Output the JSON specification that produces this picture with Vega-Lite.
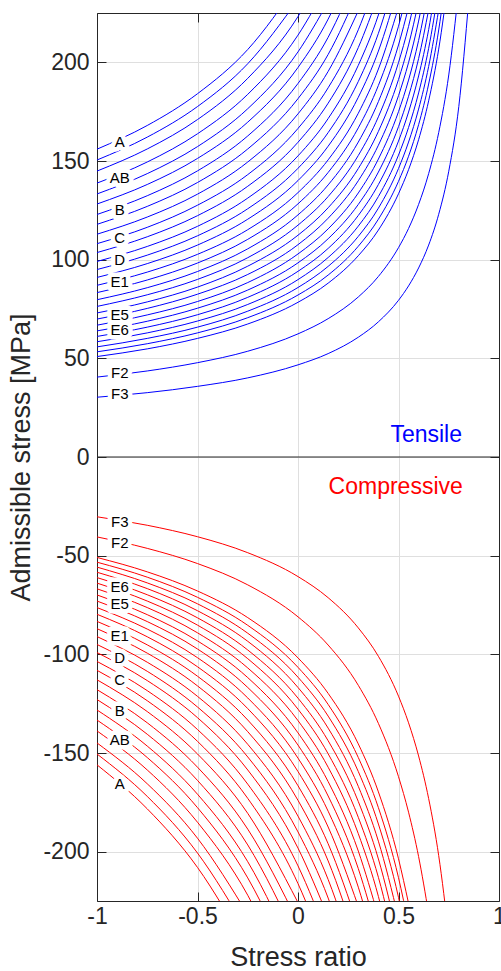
{
  "$schema": "https://vega.github.io/schema/vega-lite/v6.json",
  "width": 402,
  "height": 888,
  "autosize": "none",
  "padding": {"left": 97, "top": 13, "right": 2, "bottom": 70},
  "config": {"view": {"stroke": null}, "font": "Liberation Sans"},
  "datasets": {
    "curves": [
      {"i":"T1","f":"T","R":-1,"s":156},{"i":"T1","f":"T","R":-0.75,"s":168.0},{"i":"T1","f":"T","R":-0.5,"s":184.1},{"i":"T1","f":"T","R":-0.25,"s":206.5},{"i":"T1","f":"T","R":0,"s":240.2},
      {"i":"T2","f":"T","R":-1,"s":150.5},{"i":"T2","f":"T","R":-0.75,"s":162.1},{"i":"T2","f":"T","R":-0.5,"s":177.6},{"i":"T2","f":"T","R":-0.25,"s":199.3},{"i":"T2","f":"T","R":0,"s":231.8},
      {"i":"T3","f":"T","R":-1,"s":144.9},{"i":"T3","f":"T","R":-0.75,"s":156.1},{"i":"T3","f":"T","R":-0.5,"s":171.0},{"i":"T3","f":"T","R":-0.25,"s":191.9},{"i":"T3","f":"T","R":0,"s":223.2},{"i":"T3","f":"T","R":0.15,"s":250.8},
      {"i":"T4","f":"T","R":-1,"s":138.8},{"i":"T4","f":"T","R":-0.75,"s":149.5},{"i":"T4","f":"T","R":-0.5,"s":163.8},{"i":"T4","f":"T","R":-0.25,"s":183.8},{"i":"T4","f":"T","R":0,"s":213.8},{"i":"T4","f":"T","R":0.15,"s":240.2},
      {"i":"T5","f":"T","R":-1,"s":133.3},{"i":"T5","f":"T","R":-0.75,"s":143.6},{"i":"T5","f":"T","R":-0.5,"s":157.3},{"i":"T5","f":"T","R":-0.25,"s":176.5},{"i":"T5","f":"T","R":0,"s":205.3},{"i":"T5","f":"T","R":0.15,"s":230.7},
      {"i":"T6","f":"T","R":-1,"s":128.2},{"i":"T6","f":"T","R":-0.75,"s":138.1},{"i":"T6","f":"T","R":-0.5,"s":151.3},{"i":"T6","f":"T","R":-0.25,"s":169.7},{"i":"T6","f":"T","R":0,"s":197.4},{"i":"T6","f":"T","R":0.15,"s":221.9},{"i":"T6","f":"T","R":0.3,"s":256.8},
      {"i":"T7","f":"T","R":-1,"s":122.9},{"i":"T7","f":"T","R":-0.75,"s":132.4},{"i":"T7","f":"T","R":-0.5,"s":145.0},{"i":"T7","f":"T","R":-0.25,"s":162.7},{"i":"T7","f":"T","R":0,"s":189.3},{"i":"T7","f":"T","R":0.15,"s":212.7},{"i":"T7","f":"T","R":0.3,"s":246.2},
      {"i":"T8","f":"T","R":-1,"s":117.9},{"i":"T8","f":"T","R":-0.75,"s":127.0},{"i":"T8","f":"T","R":-0.5,"s":139.1},{"i":"T8","f":"T","R":-0.25,"s":156.1},{"i":"T8","f":"T","R":0,"s":181.6},{"i":"T8","f":"T","R":0.15,"s":204.0},{"i":"T8","f":"T","R":0.3,"s":236.1},
      {"i":"T9","f":"T","R":-1,"s":112.9},{"i":"T9","f":"T","R":-0.75,"s":121.6},{"i":"T9","f":"T","R":-0.5,"s":133.2},{"i":"T9","f":"T","R":-0.25,"s":149.5},{"i":"T9","f":"T","R":0,"s":173.9},{"i":"T9","f":"T","R":0.15,"s":195.4},{"i":"T9","f":"T","R":0.3,"s":226.1},
      {"i":"T10","f":"T","R":-1,"s":108.1},{"i":"T10","f":"T","R":-0.75,"s":116.4},{"i":"T10","f":"T","R":-0.5,"s":127.6},{"i":"T10","f":"T","R":-0.25,"s":143.1},{"i":"T10","f":"T","R":0,"s":166.5},{"i":"T10","f":"T","R":0.15,"s":187.1},{"i":"T10","f":"T","R":0.3,"s":216.5},{"i":"T10","f":"T","R":0.4,"s":244.3},
      {"i":"T11","f":"T","R":-1,"s":103.6},{"i":"T11","f":"T","R":-0.75,"s":111.6},{"i":"T11","f":"T","R":-0.5,"s":122.3},{"i":"T11","f":"T","R":-0.25,"s":137.2},{"i":"T11","f":"T","R":0,"s":159.5},{"i":"T11","f":"T","R":0.15,"s":179.3},{"i":"T11","f":"T","R":0.3,"s":207.5},{"i":"T11","f":"T","R":0.4,"s":234.1},
      {"i":"T12","f":"T","R":-1,"s":99.1},{"i":"T12","f":"T","R":-0.75,"s":106.7},{"i":"T12","f":"T","R":-0.5,"s":116.9},{"i":"T12","f":"T","R":-0.25,"s":131.2},{"i":"T12","f":"T","R":0,"s":152.6},{"i":"T12","f":"T","R":0.15,"s":171.5},{"i":"T12","f":"T","R":0.3,"s":198.5},{"i":"T12","f":"T","R":0.4,"s":224.0},{"i":"T12","f":"T","R":0.5,"s":259.6},
      {"i":"T13","f":"T","R":-1,"s":95.0},{"i":"T13","f":"T","R":-0.75,"s":102.3},{"i":"T13","f":"T","R":-0.5,"s":112.1},{"i":"T13","f":"T","R":-0.25,"s":125.8},{"i":"T13","f":"T","R":0,"s":146.3},{"i":"T13","f":"T","R":0.15,"s":164.4},{"i":"T13","f":"T","R":0.3,"s":190.3},{"i":"T13","f":"T","R":0.4,"s":214.7},{"i":"T13","f":"T","R":0.5,"s":248.9},
      {"i":"T14","f":"T","R":-1,"s":91.0},{"i":"T14","f":"T","R":-0.75,"s":98.0},{"i":"T14","f":"T","R":-0.5,"s":107.4},{"i":"T14","f":"T","R":-0.25,"s":120.5},{"i":"T14","f":"T","R":0,"s":140.1},{"i":"T14","f":"T","R":0.15,"s":157.5},{"i":"T14","f":"T","R":0.3,"s":182.3},{"i":"T14","f":"T","R":0.4,"s":205.7},{"i":"T14","f":"T","R":0.5,"s":238.4},
      {"i":"T15","f":"T","R":-1,"s":87.0},{"i":"T15","f":"T","R":-0.75,"s":93.7},{"i":"T15","f":"T","R":-0.5,"s":102.7},{"i":"T15","f":"T","R":-0.25,"s":115.2},{"i":"T15","f":"T","R":0,"s":134.0},{"i":"T15","f":"T","R":0.15,"s":150.6},{"i":"T15","f":"T","R":0.3,"s":174.2},{"i":"T15","f":"T","R":0.4,"s":196.6},{"i":"T15","f":"T","R":0.5,"s":227.9},
      {"i":"T16","f":"T","R":-1,"s":83.3},{"i":"T16","f":"T","R":-0.75,"s":89.7},{"i":"T16","f":"T","R":-0.5,"s":98.3},{"i":"T16","f":"T","R":-0.25,"s":110.3},{"i":"T16","f":"T","R":0,"s":128.3},{"i":"T16","f":"T","R":0.15,"s":144.2},{"i":"T16","f":"T","R":0.3,"s":166.8},{"i":"T16","f":"T","R":0.4,"s":188.3},{"i":"T16","f":"T","R":0.5,"s":218.3},{"i":"T16","f":"T","R":0.55,"s":238.2},
      {"i":"T17","f":"T","R":-1,"s":79.7},{"i":"T17","f":"T","R":-0.75,"s":85.8},{"i":"T17","f":"T","R":-0.5,"s":94.0},{"i":"T17","f":"T","R":-0.25,"s":105.5},{"i":"T17","f":"T","R":0,"s":122.7},{"i":"T17","f":"T","R":0.15,"s":137.9},{"i":"T17","f":"T","R":0.3,"s":159.6},{"i":"T17","f":"T","R":0.4,"s":180.1},{"i":"T17","f":"T","R":0.5,"s":208.8},{"i":"T17","f":"T","R":0.55,"s":227.9},
      {"i":"T18","f":"T","R":-1,"s":76.3},{"i":"T18","f":"T","R":-0.75,"s":82.2},{"i":"T18","f":"T","R":-0.5,"s":90.0},{"i":"T18","f":"T","R":-0.25,"s":101.0},{"i":"T18","f":"T","R":0,"s":117.5},{"i":"T18","f":"T","R":0.15,"s":132.0},{"i":"T18","f":"T","R":0.3,"s":152.8},{"i":"T18","f":"T","R":0.4,"s":172.4},{"i":"T18","f":"T","R":0.5,"s":199.9},{"i":"T18","f":"T","R":0.55,"s":218.2},{"i":"T18","f":"T","R":0.6,"s":241.1},
      {"i":"T19","f":"T","R":-1,"s":73.0},{"i":"T19","f":"T","R":-0.75,"s":78.6},{"i":"T19","f":"T","R":-0.5,"s":86.1},{"i":"T19","f":"T","R":-0.25,"s":96.7},{"i":"T19","f":"T","R":0,"s":112.4},{"i":"T19","f":"T","R":0.15,"s":126.3},{"i":"T19","f":"T","R":0.3,"s":146.2},{"i":"T19","f":"T","R":0.4,"s":165.0},{"i":"T19","f":"T","R":0.5,"s":191.3},{"i":"T19","f":"T","R":0.55,"s":208.8},{"i":"T19","f":"T","R":0.6,"s":230.7},
      {"i":"T20","f":"T","R":-1,"s":69.9},{"i":"T20","f":"T","R":-0.75,"s":75.3},{"i":"T20","f":"T","R":-0.5,"s":82.5},{"i":"T20","f":"T","R":-0.25,"s":92.5},{"i":"T20","f":"T","R":0,"s":107.6},{"i":"T20","f":"T","R":0.15,"s":121.0},{"i":"T20","f":"T","R":0.3,"s":140.0},{"i":"T20","f":"T","R":0.4,"s":158.0},{"i":"T20","f":"T","R":0.5,"s":183.1},{"i":"T20","f":"T","R":0.55,"s":199.9},{"i":"T20","f":"T","R":0.6,"s":220.9},{"i":"T20","f":"T","R":0.65,"s":247.9},
      {"i":"T21","f":"T","R":-1,"s":66.8},{"i":"T21","f":"T","R":-0.75,"s":72.0},{"i":"T21","f":"T","R":-0.5,"s":78.8},{"i":"T21","f":"T","R":-0.25,"s":88.4},{"i":"T21","f":"T","R":0,"s":102.9},{"i":"T21","f":"T","R":0.15,"s":115.6},{"i":"T21","f":"T","R":0.3,"s":133.8},{"i":"T21","f":"T","R":0.4,"s":151.0},{"i":"T21","f":"T","R":0.5,"s":175.0},{"i":"T21","f":"T","R":0.55,"s":191.0},{"i":"T21","f":"T","R":0.6,"s":211.1},{"i":"T21","f":"T","R":0.65,"s":236.9},
      {"i":"T22","f":"T","R":-1,"s":63.9},{"i":"T22","f":"T","R":-0.75,"s":68.8},{"i":"T22","f":"T","R":-0.5,"s":75.4},{"i":"T22","f":"T","R":-0.25,"s":84.6},{"i":"T22","f":"T","R":0,"s":98.4},{"i":"T22","f":"T","R":0.15,"s":110.6},{"i":"T22","f":"T","R":0.3,"s":128.0},{"i":"T22","f":"T","R":0.4,"s":144.4},{"i":"T22","f":"T","R":0.5,"s":167.4},{"i":"T22","f":"T","R":0.55,"s":182.8},{"i":"T22","f":"T","R":0.6,"s":201.9},{"i":"T22","f":"T","R":0.65,"s":226.6},
      {"i":"T23","f":"T","R":-1,"s":61.1},{"i":"T23","f":"T","R":-0.75,"s":65.8},{"i":"T23","f":"T","R":-0.5,"s":72.1},{"i":"T23","f":"T","R":-0.25,"s":80.9},{"i":"T23","f":"T","R":0,"s":94.1},{"i":"T23","f":"T","R":0.15,"s":105.7},{"i":"T23","f":"T","R":0.3,"s":122.4},{"i":"T23","f":"T","R":0.4,"s":138.1},{"i":"T23","f":"T","R":0.5,"s":160.1},{"i":"T23","f":"T","R":0.55,"s":174.8},{"i":"T23","f":"T","R":0.6,"s":193.1},{"i":"T23","f":"T","R":0.65,"s":216.6},{"i":"T23","f":"T","R":0.7,"s":248.1},
      {"i":"T24","f":"T","R":-1,"s":58.4},{"i":"T24","f":"T","R":-0.75,"s":62.9},{"i":"T24","f":"T","R":-0.5,"s":68.9},{"i":"T24","f":"T","R":-0.25,"s":77.3},{"i":"T24","f":"T","R":0,"s":89.9},{"i":"T24","f":"T","R":0.15,"s":101.1},{"i":"T24","f":"T","R":0.3,"s":117.0},{"i":"T24","f":"T","R":0.4,"s":132.0},{"i":"T24","f":"T","R":0.5,"s":153.0},{"i":"T24","f":"T","R":0.55,"s":167.0},{"i":"T24","f":"T","R":0.6,"s":184.5},{"i":"T24","f":"T","R":0.65,"s":207.1},{"i":"T24","f":"T","R":0.7,"s":237.1},
      {"i":"T25","f":"T","R":-1,"s":55.8},{"i":"T25","f":"T","R":-0.75,"s":60.1},{"i":"T25","f":"T","R":-0.5,"s":65.8},{"i":"T25","f":"T","R":-0.25,"s":73.9},{"i":"T25","f":"T","R":0,"s":85.9},{"i":"T25","f":"T","R":0.15,"s":96.6},{"i":"T25","f":"T","R":0.3,"s":111.8},{"i":"T25","f":"T","R":0.4,"s":126.1},{"i":"T25","f":"T","R":0.5,"s":146.2},{"i":"T25","f":"T","R":0.55,"s":159.6},{"i":"T25","f":"T","R":0.6,"s":176.3},{"i":"T25","f":"T","R":0.65,"s":197.9},{"i":"T25","f":"T","R":0.7,"s":226.6},
      {"i":"T26","f":"T","R":-1,"s":53.3},{"i":"T26","f":"T","R":-0.75,"s":57.4},{"i":"T26","f":"T","R":-0.5,"s":62.9},{"i":"T26","f":"T","R":-0.25,"s":70.6},{"i":"T26","f":"T","R":0,"s":82.1},{"i":"T26","f":"T","R":0.15,"s":92.2},{"i":"T26","f":"T","R":0.3,"s":106.8},{"i":"T26","f":"T","R":0.4,"s":120.5},{"i":"T26","f":"T","R":0.5,"s":139.7},{"i":"T26","f":"T","R":0.55,"s":152.4},{"i":"T26","f":"T","R":0.6,"s":168.4},{"i":"T26","f":"T","R":0.65,"s":189.0},{"i":"T26","f":"T","R":0.7,"s":216.4},{"i":"T26","f":"T","R":0.75,"s":254.8},
      {"i":"T27","f":"T","R":-1,"s":50.9},{"i":"T27","f":"T","R":-0.75,"s":54.8},{"i":"T27","f":"T","R":-0.5,"s":60.1},{"i":"T27","f":"T","R":-0.25,"s":67.4},{"i":"T27","f":"T","R":0,"s":78.4},{"i":"T27","f":"T","R":0.15,"s":88.1},{"i":"T27","f":"T","R":0.3,"s":102.0},{"i":"T27","f":"T","R":0.4,"s":115.0},{"i":"T27","f":"T","R":0.5,"s":133.4},{"i":"T27","f":"T","R":0.55,"s":145.6},{"i":"T27","f":"T","R":0.6,"s":160.8},{"i":"T27","f":"T","R":0.65,"s":180.5},{"i":"T27","f":"T","R":0.7,"s":206.7},{"i":"T27","f":"T","R":0.75,"s":243.3},
      {"i":"T28","f":"T","R":-1,"s":40.5},{"i":"T28","f":"T","R":-0.75,"s":43.6},{"i":"T28","f":"T","R":-0.5,"s":47.8},{"i":"T28","f":"T","R":-0.25,"s":53.6},{"i":"T28","f":"T","R":0,"s":62.4},{"i":"T28","f":"T","R":0.15,"s":70.1},{"i":"T28","f":"T","R":0.3,"s":81.1},{"i":"T28","f":"T","R":0.4,"s":91.5},{"i":"T28","f":"T","R":0.5,"s":106.1},{"i":"T28","f":"T","R":0.55,"s":115.8},{"i":"T28","f":"T","R":0.6,"s":128.0},{"i":"T28","f":"T","R":0.65,"s":143.6},{"i":"T28","f":"T","R":0.7,"s":164.4},{"i":"T28","f":"T","R":0.75,"s":193.6},{"i":"T28","f":"T","R":0.8,"s":237.3},
      {"i":"T29","f":"T","R":-1,"s":30.3},{"i":"T29","f":"T","R":-0.75,"s":32.6},{"i":"T29","f":"T","R":-0.5,"s":35.8},{"i":"T29","f":"T","R":-0.25,"s":40.1},{"i":"T29","f":"T","R":0,"s":46.7},{"i":"T29","f":"T","R":0.15,"s":52.4},{"i":"T29","f":"T","R":0.3,"s":60.7},{"i":"T29","f":"T","R":0.4,"s":68.5},{"i":"T29","f":"T","R":0.5,"s":79.4},{"i":"T29","f":"T","R":0.55,"s":86.7},{"i":"T29","f":"T","R":0.6,"s":95.8},{"i":"T29","f":"T","R":0.65,"s":107.4},{"i":"T29","f":"T","R":0.7,"s":123.0},{"i":"T29","f":"T","R":0.75,"s":144.8},{"i":"T29","f":"T","R":0.8,"s":177.6},{"i":"T29","f":"T","R":0.85,"s":232.1},
      {"i":"C1","f":"C","R":-1,"s":-156},{"i":"C1","f":"C","R":-0.75,"s":-178.3},{"i":"C1","f":"C","R":-0.5,"s":-208.0},{"i":"C1","f":"C","R":-0.25,"s":-249.6},
      {"i":"C2","f":"C","R":-1,"s":-150.5},{"i":"C2","f":"C","R":-0.75,"s":-172.0},{"i":"C2","f":"C","R":-0.5,"s":-200.7},{"i":"C2","f":"C","R":-0.25,"s":-240.8},
      {"i":"C3","f":"C","R":-1,"s":-144.9},{"i":"C3","f":"C","R":-0.75,"s":-165.6},{"i":"C3","f":"C","R":-0.5,"s":-193.2},{"i":"C3","f":"C","R":-0.25,"s":-231.8},
      {"i":"C4","f":"C","R":-1,"s":-138.8},{"i":"C4","f":"C","R":-0.75,"s":-158.6},{"i":"C4","f":"C","R":-0.5,"s":-185.1},{"i":"C4","f":"C","R":-0.25,"s":-222.1},{"i":"C4","f":"C","R":0,"s":-277.6},
      {"i":"C5","f":"C","R":-1,"s":-133.3},{"i":"C5","f":"C","R":-0.75,"s":-152.3},{"i":"C5","f":"C","R":-0.5,"s":-177.7},{"i":"C5","f":"C","R":-0.25,"s":-213.3},{"i":"C5","f":"C","R":0,"s":-266.6},
      {"i":"C6","f":"C","R":-1,"s":-128.2},{"i":"C6","f":"C","R":-0.75,"s":-146.5},{"i":"C6","f":"C","R":-0.5,"s":-170.9},{"i":"C6","f":"C","R":-0.25,"s":-205.1},{"i":"C6","f":"C","R":0,"s":-256.4},
      {"i":"C7","f":"C","R":-1,"s":-122.9},{"i":"C7","f":"C","R":-0.75,"s":-140.5},{"i":"C7","f":"C","R":-0.5,"s":-163.9},{"i":"C7","f":"C","R":-0.25,"s":-196.6},{"i":"C7","f":"C","R":0,"s":-245.8},
      {"i":"C8","f":"C","R":-1,"s":-117.9},{"i":"C8","f":"C","R":-0.75,"s":-134.7},{"i":"C8","f":"C","R":-0.5,"s":-157.2},{"i":"C8","f":"C","R":-0.25,"s":-188.6},{"i":"C8","f":"C","R":0,"s":-235.8},
      {"i":"C9","f":"C","R":-1,"s":-112.9},{"i":"C9","f":"C","R":-0.75,"s":-129.0},{"i":"C9","f":"C","R":-0.5,"s":-150.5},{"i":"C9","f":"C","R":-0.25,"s":-180.6},{"i":"C9","f":"C","R":0,"s":-225.8},
      {"i":"C10","f":"C","R":-1,"s":-108.1},{"i":"C10","f":"C","R":-0.75,"s":-123.5},{"i":"C10","f":"C","R":-0.5,"s":-144.1},{"i":"C10","f":"C","R":-0.25,"s":-173.0},{"i":"C10","f":"C","R":0,"s":-216.2},{"i":"C10","f":"C","R":0.15,"s":-254.4},
      {"i":"C11","f":"C","R":-1,"s":-103.6},{"i":"C11","f":"C","R":-0.75,"s":-118.4},{"i":"C11","f":"C","R":-0.5,"s":-138.1},{"i":"C11","f":"C","R":-0.25,"s":-165.8},{"i":"C11","f":"C","R":0,"s":-207.2},{"i":"C11","f":"C","R":0.15,"s":-243.8},
      {"i":"C12","f":"C","R":-1,"s":-99.1},{"i":"C12","f":"C","R":-0.75,"s":-113.3},{"i":"C12","f":"C","R":-0.5,"s":-132.1},{"i":"C12","f":"C","R":-0.25,"s":-158.6},{"i":"C12","f":"C","R":0,"s":-198.2},{"i":"C12","f":"C","R":0.15,"s":-233.2},
      {"i":"C13","f":"C","R":-1,"s":-95.0},{"i":"C13","f":"C","R":-0.75,"s":-108.6},{"i":"C13","f":"C","R":-0.5,"s":-126.7},{"i":"C13","f":"C","R":-0.25,"s":-152.0},{"i":"C13","f":"C","R":0,"s":-190.0},{"i":"C13","f":"C","R":0.15,"s":-223.5},{"i":"C13","f":"C","R":0.3,"s":-271.4},
      {"i":"C14","f":"C","R":-1,"s":-91.0},{"i":"C14","f":"C","R":-0.75,"s":-104.0},{"i":"C14","f":"C","R":-0.5,"s":-121.3},{"i":"C14","f":"C","R":-0.25,"s":-145.6},{"i":"C14","f":"C","R":0,"s":-182.0},{"i":"C14","f":"C","R":0.15,"s":-214.1},{"i":"C14","f":"C","R":0.3,"s":-260.0},
      {"i":"C15","f":"C","R":-1,"s":-87.0},{"i":"C15","f":"C","R":-0.75,"s":-99.4},{"i":"C15","f":"C","R":-0.5,"s":-116.0},{"i":"C15","f":"C","R":-0.25,"s":-139.2},{"i":"C15","f":"C","R":0,"s":-174.0},{"i":"C15","f":"C","R":0.15,"s":-204.7},{"i":"C15","f":"C","R":0.3,"s":-248.6},
      {"i":"C16","f":"C","R":-1,"s":-83.3},{"i":"C16","f":"C","R":-0.75,"s":-95.2},{"i":"C16","f":"C","R":-0.5,"s":-111.1},{"i":"C16","f":"C","R":-0.25,"s":-133.3},{"i":"C16","f":"C","R":0,"s":-166.6},{"i":"C16","f":"C","R":0.15,"s":-196.0},{"i":"C16","f":"C","R":0.3,"s":-238.0},
      {"i":"C17","f":"C","R":-1,"s":-79.7},{"i":"C17","f":"C","R":-0.75,"s":-91.1},{"i":"C17","f":"C","R":-0.5,"s":-106.3},{"i":"C17","f":"C","R":-0.25,"s":-127.5},{"i":"C17","f":"C","R":0,"s":-159.4},{"i":"C17","f":"C","R":0.15,"s":-187.5},{"i":"C17","f":"C","R":0.3,"s":-227.7},
      {"i":"C18","f":"C","R":-1,"s":-76.3},{"i":"C18","f":"C","R":-0.75,"s":-87.2},{"i":"C18","f":"C","R":-0.5,"s":-101.7},{"i":"C18","f":"C","R":-0.25,"s":-122.1},{"i":"C18","f":"C","R":0,"s":-152.6},{"i":"C18","f":"C","R":0.15,"s":-179.5},{"i":"C18","f":"C","R":0.3,"s":-218.0},{"i":"C18","f":"C","R":0.4,"s":-254.3},
      {"i":"C19","f":"C","R":-1,"s":-73.0},{"i":"C19","f":"C","R":-0.75,"s":-83.4},{"i":"C19","f":"C","R":-0.5,"s":-97.3},{"i":"C19","f":"C","R":-0.25,"s":-116.8},{"i":"C19","f":"C","R":0,"s":-146.0},{"i":"C19","f":"C","R":0.15,"s":-171.8},{"i":"C19","f":"C","R":0.3,"s":-208.6},{"i":"C19","f":"C","R":0.4,"s":-243.3},
      {"i":"C20","f":"C","R":-1,"s":-69.9},{"i":"C20","f":"C","R":-0.75,"s":-79.9},{"i":"C20","f":"C","R":-0.5,"s":-93.2},{"i":"C20","f":"C","R":-0.25,"s":-111.8},{"i":"C20","f":"C","R":0,"s":-139.8},{"i":"C20","f":"C","R":0.15,"s":-164.5},{"i":"C20","f":"C","R":0.3,"s":-199.7},{"i":"C20","f":"C","R":0.4,"s":-233.0},
      {"i":"C21","f":"C","R":-1,"s":-66.8},{"i":"C21","f":"C","R":-0.75,"s":-76.3},{"i":"C21","f":"C","R":-0.5,"s":-89.1},{"i":"C21","f":"C","R":-0.25,"s":-106.9},{"i":"C21","f":"C","R":0,"s":-133.6},{"i":"C21","f":"C","R":0.15,"s":-157.2},{"i":"C21","f":"C","R":0.3,"s":-190.9},{"i":"C21","f":"C","R":0.4,"s":-222.7},{"i":"C21","f":"C","R":0.5,"s":-267.2},
      {"i":"C22","f":"C","R":-1,"s":-63.9},{"i":"C22","f":"C","R":-0.75,"s":-73.0},{"i":"C22","f":"C","R":-0.5,"s":-85.2},{"i":"C22","f":"C","R":-0.25,"s":-102.2},{"i":"C22","f":"C","R":0,"s":-127.8},{"i":"C22","f":"C","R":0.15,"s":-150.4},{"i":"C22","f":"C","R":0.3,"s":-182.6},{"i":"C22","f":"C","R":0.4,"s":-213.0},{"i":"C22","f":"C","R":0.5,"s":-255.6},
      {"i":"C23","f":"C","R":-1,"s":-61.1},{"i":"C23","f":"C","R":-0.75,"s":-69.8},{"i":"C23","f":"C","R":-0.5,"s":-81.5},{"i":"C23","f":"C","R":-0.25,"s":-97.8},{"i":"C23","f":"C","R":0,"s":-122.2},{"i":"C23","f":"C","R":0.15,"s":-143.8},{"i":"C23","f":"C","R":0.3,"s":-174.6},{"i":"C23","f":"C","R":0.4,"s":-203.7},{"i":"C23","f":"C","R":0.5,"s":-244.4},
      {"i":"C24","f":"C","R":-1,"s":-58.4},{"i":"C24","f":"C","R":-0.75,"s":-66.7},{"i":"C24","f":"C","R":-0.5,"s":-77.9},{"i":"C24","f":"C","R":-0.25,"s":-93.4},{"i":"C24","f":"C","R":0,"s":-116.8},{"i":"C24","f":"C","R":0.15,"s":-137.4},{"i":"C24","f":"C","R":0.3,"s":-166.9},{"i":"C24","f":"C","R":0.4,"s":-194.7},{"i":"C24","f":"C","R":0.5,"s":-233.6},
      {"i":"C25","f":"C","R":-1,"s":-55.8},{"i":"C25","f":"C","R":-0.75,"s":-63.8},{"i":"C25","f":"C","R":-0.5,"s":-74.4},{"i":"C25","f":"C","R":-0.25,"s":-89.3},{"i":"C25","f":"C","R":0,"s":-111.6},{"i":"C25","f":"C","R":0.15,"s":-131.3},{"i":"C25","f":"C","R":0.3,"s":-159.4},{"i":"C25","f":"C","R":0.4,"s":-186.0},{"i":"C25","f":"C","R":0.5,"s":-223.2},{"i":"C25","f":"C","R":0.55,"s":-248.0},
      {"i":"C26","f":"C","R":-1,"s":-53.3},{"i":"C26","f":"C","R":-0.75,"s":-60.9},{"i":"C26","f":"C","R":-0.5,"s":-71.1},{"i":"C26","f":"C","R":-0.25,"s":-85.3},{"i":"C26","f":"C","R":0,"s":-106.6},{"i":"C26","f":"C","R":0.15,"s":-125.4},{"i":"C26","f":"C","R":0.3,"s":-152.3},{"i":"C26","f":"C","R":0.4,"s":-177.7},{"i":"C26","f":"C","R":0.5,"s":-213.2},{"i":"C26","f":"C","R":0.55,"s":-236.9},
      {"i":"C27","f":"C","R":-1,"s":-50.9},{"i":"C27","f":"C","R":-0.75,"s":-58.2},{"i":"C27","f":"C","R":-0.5,"s":-67.9},{"i":"C27","f":"C","R":-0.25,"s":-81.4},{"i":"C27","f":"C","R":0,"s":-101.8},{"i":"C27","f":"C","R":0.15,"s":-119.8},{"i":"C27","f":"C","R":0.3,"s":-145.4},{"i":"C27","f":"C","R":0.4,"s":-169.7},{"i":"C27","f":"C","R":0.5,"s":-203.6},{"i":"C27","f":"C","R":0.55,"s":-226.2},
      {"i":"C28","f":"C","R":-1,"s":-40.5},{"i":"C28","f":"C","R":-0.75,"s":-46.3},{"i":"C28","f":"C","R":-0.5,"s":-54.0},{"i":"C28","f":"C","R":-0.25,"s":-64.8},{"i":"C28","f":"C","R":0,"s":-81.0},{"i":"C28","f":"C","R":0.15,"s":-95.3},{"i":"C28","f":"C","R":0.3,"s":-115.7},{"i":"C28","f":"C","R":0.4,"s":-135.0},{"i":"C28","f":"C","R":0.5,"s":-162.0},{"i":"C28","f":"C","R":0.55,"s":-180.0},{"i":"C28","f":"C","R":0.6,"s":-202.5},{"i":"C28","f":"C","R":0.65,"s":-231.4},
      {"i":"C29","f":"C","R":-1,"s":-30.3},{"i":"C29","f":"C","R":-0.75,"s":-34.6},{"i":"C29","f":"C","R":-0.5,"s":-40.4},{"i":"C29","f":"C","R":-0.25,"s":-48.5},{"i":"C29","f":"C","R":0,"s":-60.6},{"i":"C29","f":"C","R":0.15,"s":-71.3},{"i":"C29","f":"C","R":0.3,"s":-86.6},{"i":"C29","f":"C","R":0.4,"s":-101.0},{"i":"C29","f":"C","R":0.5,"s":-121.2},{"i":"C29","f":"C","R":0.55,"s":-134.7},{"i":"C29","f":"C","R":0.6,"s":-151.5},{"i":"C29","f":"C","R":0.65,"s":-173.1},{"i":"C29","f":"C","R":0.7,"s":-202.0},{"i":"C29","f":"C","R":0.75,"s":-242.4}
    ],
    "labels": [
      {"t": "A", "R": -0.887, "s": 159.7},
      {"t": "AB", "R": -0.887, "s": 141.4},
      {"t": "B", "R": -0.887, "s": 125.1},
      {"t": "C", "R": -0.887, "s": 110.9},
      {"t": "D", "R": -0.887, "s": 99.8},
      {"t": "E1", "R": -0.887, "s": 88.7},
      {"t": "E5", "R": -0.887, "s": 71.9},
      {"t": "E6", "R": -0.887, "s": 64.3},
      {"t": "F2", "R": -0.887, "s": 42.6},
      {"t": "F3", "R": -0.887, "s": 32.0},
      {"t": "A", "R": -0.887, "s": -165.7},
      {"t": "AB", "R": -0.887, "s": -143.4},
      {"t": "B", "R": -0.887, "s": -128.7},
      {"t": "C", "R": -0.887, "s": -113.0},
      {"t": "D", "R": -0.887, "s": -101.9},
      {"t": "E1", "R": -0.887, "s": -90.7},
      {"t": "E5", "R": -0.887, "s": -74.5},
      {"t": "E6", "R": -0.887, "s": -65.9},
      {"t": "F2", "R": -0.887, "s": -43.6},
      {"t": "F3", "R": -0.887, "s": -32.9}
    ],
    "notes": [
      {"t": "Tensile", "f": "T", "R": 0.816, "s": 7.6},
      {"t": "Compressive", "f": "C", "R": 0.82, "s": -18.9}
    ]
  },
  "resolve": {"axis": {"x": "independent", "y": "independent"}},
  "layer": [
    {
      "data": {"name": "curves"},
      "mark": {"type": "line", "interpolate": "monotone", "clip": true, "strokeWidth": 1},
      "encoding": {
        "x": {"field": "R", "type": "quantitative",
          "scale": {"domain": [-1, 1], "nice": false, "zero": false},
          "axis": {"orient": "bottom", "values": [-1, -0.5, 0, 0.5, 1], "labelExpr": "'' + datum.value",
            "grid": true, "gridColor": "#dfdfdf", "tickSize": -9, "tickColor": "#262626",
            "domainColor": "#262626", "labelFont": "Liberation Sans", "labelFontSize": 23, "labelColor": "#262626",
            "labelPadding": 13, "labelFlush": false, "labelOverlap": false,
            "title": "Stress ratio", "titleFont": "Liberation Sans", "titleFontSize": 27, "titleFontWeight": "normal",
            "titleColor": "#262626", "titlePadding": 16}},
        "y": {"field": "s", "type": "quantitative",
          "scale": {"domain": [-225, 225], "nice": false, "zero": false},
          "axis": {"orient": "left", "values": [-200, -150, -100, -50, 0, 50, 100, 150, 200], "labelExpr": "'' + datum.value",
            "grid": true, "gridColor": "#dfdfdf", "tickSize": -9, "tickColor": "#262626",
            "domainColor": "#262626", "labelFont": "Liberation Sans", "labelFontSize": 23, "labelColor": "#262626",
            "labelPadding": 17, "labelFlush": false, "labelOverlap": false,
            "title": "Admissible stress [MPa]", "titleFont": "Liberation Sans", "titleFontSize": 27, "titleFontWeight": "normal",
            "titleColor": "#262626", "titlePadding": 7}},
        "color": {"field": "f", "type": "nominal", "scale": {"domain": ["T", "C"], "range": ["#0000ff", "#ff0000"]}, "legend": null},
        "detail": {"field": "i", "type": "nominal"}
      }
    },
    {
      "data": {"values": [{"s": 0}]},
      "mark": {"type": "rule", "color": "#262626", "strokeWidth": 1},
      "encoding": {"y": {"field": "s", "type": "quantitative", "axis": null}}
    },
    {
      "data": {"name": "labels"},
      "mark": {"type": "text", "font": "Liberation Sans", "fontSize": 15, "fill": "white", "stroke": "white", "strokeWidth": 9, "strokeJoin": "round", "baseline": "middle", "align": "center"},
      "encoding": {
        "x": {"field": "R", "type": "quantitative", "axis": null},
        "y": {"field": "s", "type": "quantitative", "axis": null},
        "text": {"field": "t"}
      }
    },
    {
      "data": {"name": "labels"},
      "mark": {"type": "text", "font": "Liberation Sans", "fontSize": 15, "fill": "black", "baseline": "middle", "align": "center"},
      "encoding": {
        "x": {"field": "R", "type": "quantitative", "axis": null},
        "y": {"field": "s", "type": "quantitative", "axis": null},
        "text": {"field": "t"}
      }
    },
    {
      "data": {"name": "notes"},
      "mark": {"type": "text", "font": "Liberation Sans", "fontSize": 23, "baseline": "alphabetic", "align": "right"},
      "encoding": {
        "x": {"field": "R", "type": "quantitative",
          "axis": {"orient": "top", "values": [-1, -0.5, 0, 0.5, 1], "labels": false, "grid": false, "tickSize": -9,
            "tickColor": "#262626", "domainColor": "#262626", "title": null}},
        "y": {"field": "s", "type": "quantitative",
          "axis": {"orient": "right", "values": [-200, -150, -100, -50, 0, 50, 100, 150, 200], "labels": false, "grid": false, "tickSize": -9,
            "tickColor": "#262626", "domainColor": "#262626", "title": null}},
        "color": {"field": "f", "type": "nominal", "legend": null},
        "text": {"field": "t"}
      }
    }
  ]
}
